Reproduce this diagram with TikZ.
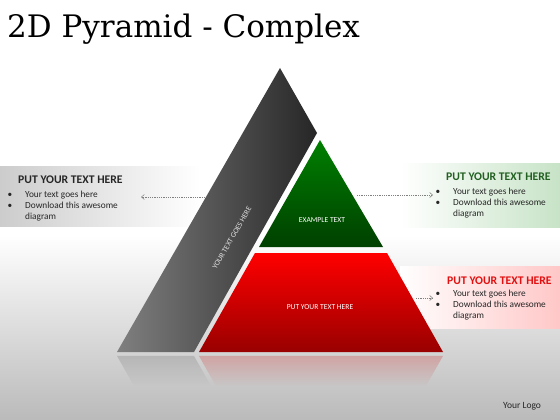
\documentclass[tikz,border=0pt]{standalone}
\usepackage{fontspec}
\setmainfont{Carlito}
\newfontfamily\headfont{DejaVu Serif}
\usetikzlibrary{arrows.meta,fadings}
\definecolor{titlegreen}{RGB}{34,96,34}
\definecolor{titlered}{RGB}{226,16,16}
\definecolor{darktext}{RGB}{38,38,38}
\newcommand{\bulletlines}{%
  \begin{tabular}[t]{@{}p{17.5pt}@{}l@{}}
  \textbullet & Your text goes here\\
  \textbullet & Download this awesome\\
              & diagram
  \end{tabular}}
\begin{document}
\begin{tikzpicture}
[x=1pt,y=-1pt,
  boxtitle/.style={anchor=west,inner sep=0pt,font=\fontsize{11.7}{13}\selectfont\bfseries},%
  boxlist/.style={anchor=base west,inner sep=0pt,text=darktext,font=\fontsize{9.3}{11}\selectfont},%
  pyrlabel/.style={inner sep=0pt,text=white,font=\fontsize{7.6}{8}\selectfont},%
  arrowdecorate/.style={-{Straight Barb[length=3pt,width=5pt]},gray,line width=0.5pt,dash pattern=on 1pt off 0.8pt}]
\useasboundingbox (0,0) rectangle (560,420);
% background
\fill[white] (0,0) rectangle (560,420);
\shade[top color=white,bottom color=black!27] (0,235) rectangle (560,420);
% title
\node[anchor=base west,inner sep=0pt,font=\headfont\fontsize{31}{36}\selectfont] (title) at (7,38) {2D Pyramid - Complex};
% text boxes
\node[shade,left color=black!20,right color=white,minimum width=200pt,minimum height=60pt,inner sep=0pt] (leftbox) at (100,196) {};
\node[shade,left color=white,right color=green!50!black!22,minimum width=160pt,minimum height=64pt,inner sep=0pt] (greenbox) at (480,195) {};
\node[shade,left color=white,right color=red!22,minimum width=160pt,minimum height=62pt,inner sep=0pt] (redbox) at (480,297) {};
% reflections
\shade[top color=black!60,bottom color=black!60,opacity=0.25,path fading=south] (117,356) -- (194,356) -- (211,386) -- (134,386) -- cycle;
\shade[top color=red!80!black,bottom color=red!80!black,opacity=0.22,path fading=south] (199,356) -- (443,356) -- (426,386) -- (216,386) -- cycle;
% pyramid parts
\shade[left color=black!50,right color=black!85] (280,68) -- (317,133) -- (194,352) -- (117,352) -- cycle;
\shade[top color=green!50!black,bottom color=green!25!black] (320,140) -- (383,247) -- (259,247) -- cycle;
\shade[top color=red,bottom color=red!60!black] (255,253) -- (387,253) -- (443,352) -- (199,352) -- cycle;
% pyramid labels
\node[pyrlabel,text=black!12,rotate=60] (bandtext) at (232,238) {YOUR TEXT GOES HERE};
\node[pyrlabel] (greentext) at (322,220) {EXAMPLE TEXT};
\node[pyrlabel] (redtext) at (320,307) {PUT YOUR TEXT HERE};
% box texts
\node[boxtitle,text=darktext] (lefttitle) at (18,180) {PUT YOUR TEXT HERE};
\node[boxlist] (leftlist) at (7.5,197) {\bulletlines};
\node[boxtitle,text=titlegreen] (greentitle) at (446,177) {PUT YOUR TEXT HERE};
\node[boxlist] (greenlist) at (435.5,194) {\bulletlines};
\node[boxtitle,text=titlered] (redtitle) at (447,280.5) {PUT YOUR TEXT HERE};
\node[boxlist] (redlist) at (435.5,296) {\bulletlines};
\node[anchor=base west,inner sep=0pt,text=darktext,font=\fontsize{9.5}{11}\selectfont] (logo) at (503,408) {Your Logo};
% connectors
\coordinate (bandside) at (205,197);
\coordinate (lefttip) at (141,197);
\coordinate (greenside) at (357,195);
\coordinate (greentip) at (433,195);
\coordinate (redside) at (416,298);
\coordinate (redtip) at (433,298);
\path
(bandside) edge[arrowdecorate] (lefttip)
(greenside) edge[arrowdecorate] (greentip)
(redside) edge[arrowdecorate] (redtip);
\end{tikzpicture}
\end{document}
